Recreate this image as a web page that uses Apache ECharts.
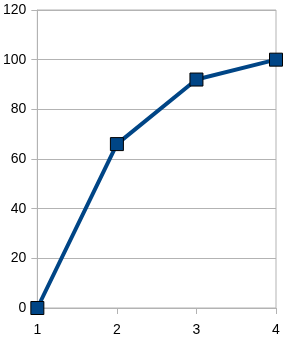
<!DOCTYPE html>
<html>
<head>
<meta charset="utf-8">
<script src="https://cdn.jsdelivr.net/npm/echarts@6/dist/echarts.min.js"></script>
<style>html,body{margin:0;padding:0;background:#fff;}#c{width:287px;height:343px;}</style>
</head>
<body>
<div id="c"></div>
<script>
const categories = ['1', '2', '3', '4'];
const values = [0, 66, 92, 100];
const yMin = 0, yMax = 120, yStep = 20;

const chart = echarts.init(document.getElementById('c'), null, {renderer: 'canvas'});
chart.setOption({
  animation: false,
  backgroundColor: '#ffffff',
  grid: {left: 36, right: 11, top: 10, bottom: 35, show: true, borderColor: '#b3b3b3', borderWidth: 1, backgroundColor: 'transparent'},
  xAxis: {
    type: 'category',
    data: categories,
    boundaryGap: false,
    axisLine: {show: true, lineStyle: {color: '#b3b3b3', width: 1}},
    axisTick: {show: true, length: 6, lineStyle: {color: '#b3b3b3'}},
    axisLabel: {color: '#000', fontFamily: 'Liberation Sans', fontSize: 14, margin: 15},
    splitLine: {show: false}
  },
  yAxis: {
    type: 'value',
    min: yMin, max: yMax, interval: yStep,
    axisLine: {show: true, lineStyle: {color: '#b3b3b3', width: 1}},
    axisTick: {show: true, length: 6, lineStyle: {color: '#b3b3b3'}},
    axisLabel: {color: '#000', fontFamily: 'Liberation Sans', fontSize: 14, margin: 11},
    splitLine: {show: true, lineStyle: {color: '#b3b3b3', width: 1}}
  },
  series: [{
    type: 'line',
    data: values,
    symbol: 'rect',
    symbolSize: 13,
    lineStyle: {color: '#004586', width: 4},
    itemStyle: {color: '#004586', borderColor: '#000', borderWidth: 1},
    z: 5
  }]
});
</script>
</body>
</html>
